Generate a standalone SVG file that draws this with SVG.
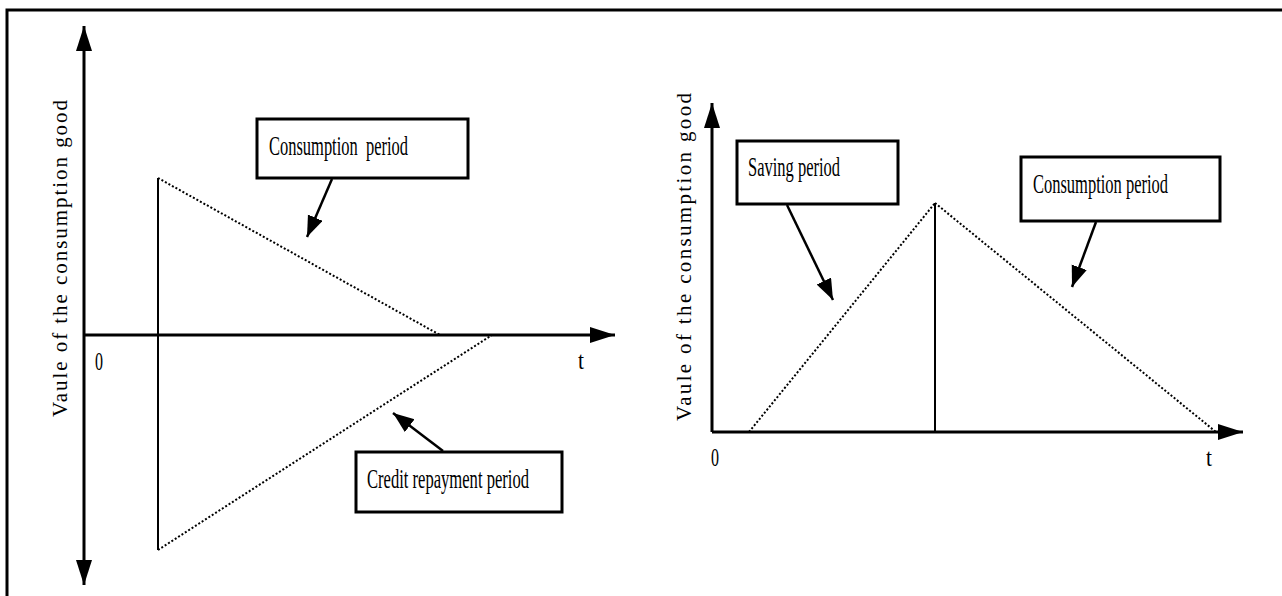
<svg xmlns="http://www.w3.org/2000/svg" width="1282" height="596" viewBox="0 0 1282 596">
  <style>
    .axis { stroke: #000; stroke-width: 3; fill: none; }
    .solid { stroke: #000; stroke-width: 2; fill: none; }
    .dot { stroke: #000; stroke-width: 2; fill: none; stroke-dasharray: 2 2; }
    .box { fill: #fff; stroke: #000; stroke-width: 3; }
    .call { stroke: #000; stroke-width: 2.5; fill: none; }
    text { font-family: "Liberation Serif", "Times New Roman", serif; font-size: 27px; fill: #000; white-space: pre; }
    .lbl { font-size: 21px; }
    .tick { font-size: 26px; }
  </style>
  <defs>
    <marker id="axhead" markerUnits="userSpaceOnUse" markerWidth="26" markerHeight="17" refX="25" refY="8" orient="auto-start-reverse" viewBox="0 0 26 17">
      <path d="M0,0 L25,8 L0,16 z" fill="#000"/>
    </marker>
    <marker id="callhead" markerUnits="userSpaceOnUse" markerWidth="22" markerHeight="17" refX="21" refY="8" orient="auto" viewBox="0 0 22 17">
      <path d="M0,0 L21,8 L0,16 z" fill="#000"/>
    </marker>
  </defs>

  <rect x="7" y="10" width="1290" height="600" fill="none" stroke="#000" stroke-width="3"/>

  <g id="left-chart">
    <g id="left-axes">
      <line class="axis" x1="84" y1="26" x2="84" y2="585" marker-start="url(#axhead)" marker-end="url(#axhead)"/>
      <line class="axis" x1="84" y1="335" x2="615" y2="335" marker-end="url(#axhead)"/>
      <text class="lbl" transform="translate(67,417) rotate(-90)" textLength="317" lengthAdjust="spacing">Vaule of the consumption good</text>
      <text class="tick" x="95" y="370" textLength="8" lengthAdjust="spacingAndGlyphs">0</text>
      <text class="tick" x="578" y="369" textLength="6" lengthAdjust="spacingAndGlyphs">t</text>
    </g>
    <g id="left-curves">
      <line class="solid" x1="158" y1="178" x2="158" y2="550"/>
      <line class="dot" x1="158" y1="178" x2="440" y2="335"/>
      <line class="dot" x1="158" y1="550" x2="492" y2="335"/>
    </g>
  </g>

  <g id="node-consumption-left">
    <rect class="box" x="257" y="119" width="211" height="59"/>
    <text xml:space="preserve" x="269" y="155" textLength="139" lengthAdjust="spacingAndGlyphs">Consumption  period</text>
  </g>
  <g id="node-credit">
    <rect class="box" x="356" y="452" width="206" height="60"/>
    <text x="367" y="488" textLength="162" lengthAdjust="spacingAndGlyphs">Credit repayment period</text>
  </g>

  <g id="right-chart">
    <g id="right-axes">
      <line class="axis" x1="712" y1="432" x2="712" y2="103" marker-end="url(#axhead)"/>
      <line class="axis" x1="712" y1="432" x2="1243" y2="432" marker-end="url(#axhead)"/>
      <text class="lbl" transform="translate(691,421) rotate(-90)" textLength="328" lengthAdjust="spacing">Vaule of the consumption good</text>
      <text class="tick" x="711" y="466" textLength="8" lengthAdjust="spacingAndGlyphs">0</text>
      <text class="tick" x="1206" y="466" textLength="6" lengthAdjust="spacingAndGlyphs">t</text>
    </g>
    <g id="right-curves">
      <line class="solid" x1="935" y1="203" x2="935" y2="432"/>
      <line class="dot" x1="749" y1="432" x2="935" y2="203"/>
      <line class="dot" x1="935" y1="203" x2="1216" y2="432"/>
    </g>
  </g>

  <g id="node-saving">
    <rect class="box" x="737" y="141" width="161" height="63"/>
    <text x="748" y="176" textLength="92" lengthAdjust="spacingAndGlyphs">Saving period</text>
  </g>
  <g id="node-consumption-right">
    <rect class="box" x="1021" y="157" width="199" height="64"/>
    <text x="1033" y="193" textLength="135" lengthAdjust="spacingAndGlyphs">Consumption period</text>
  </g>

  <g id="connectors">
    <line class="call" x1="332" y1="179" x2="307" y2="237" marker-end="url(#callhead)"/>
    <line class="call" x1="443" y1="451" x2="393" y2="413" marker-end="url(#callhead)"/>
    <line class="call" x1="787" y1="205" x2="833" y2="300" marker-end="url(#callhead)"/>
    <line class="call" x1="1096" y1="222" x2="1072" y2="287" marker-end="url(#callhead)"/>
  </g>
</svg>
